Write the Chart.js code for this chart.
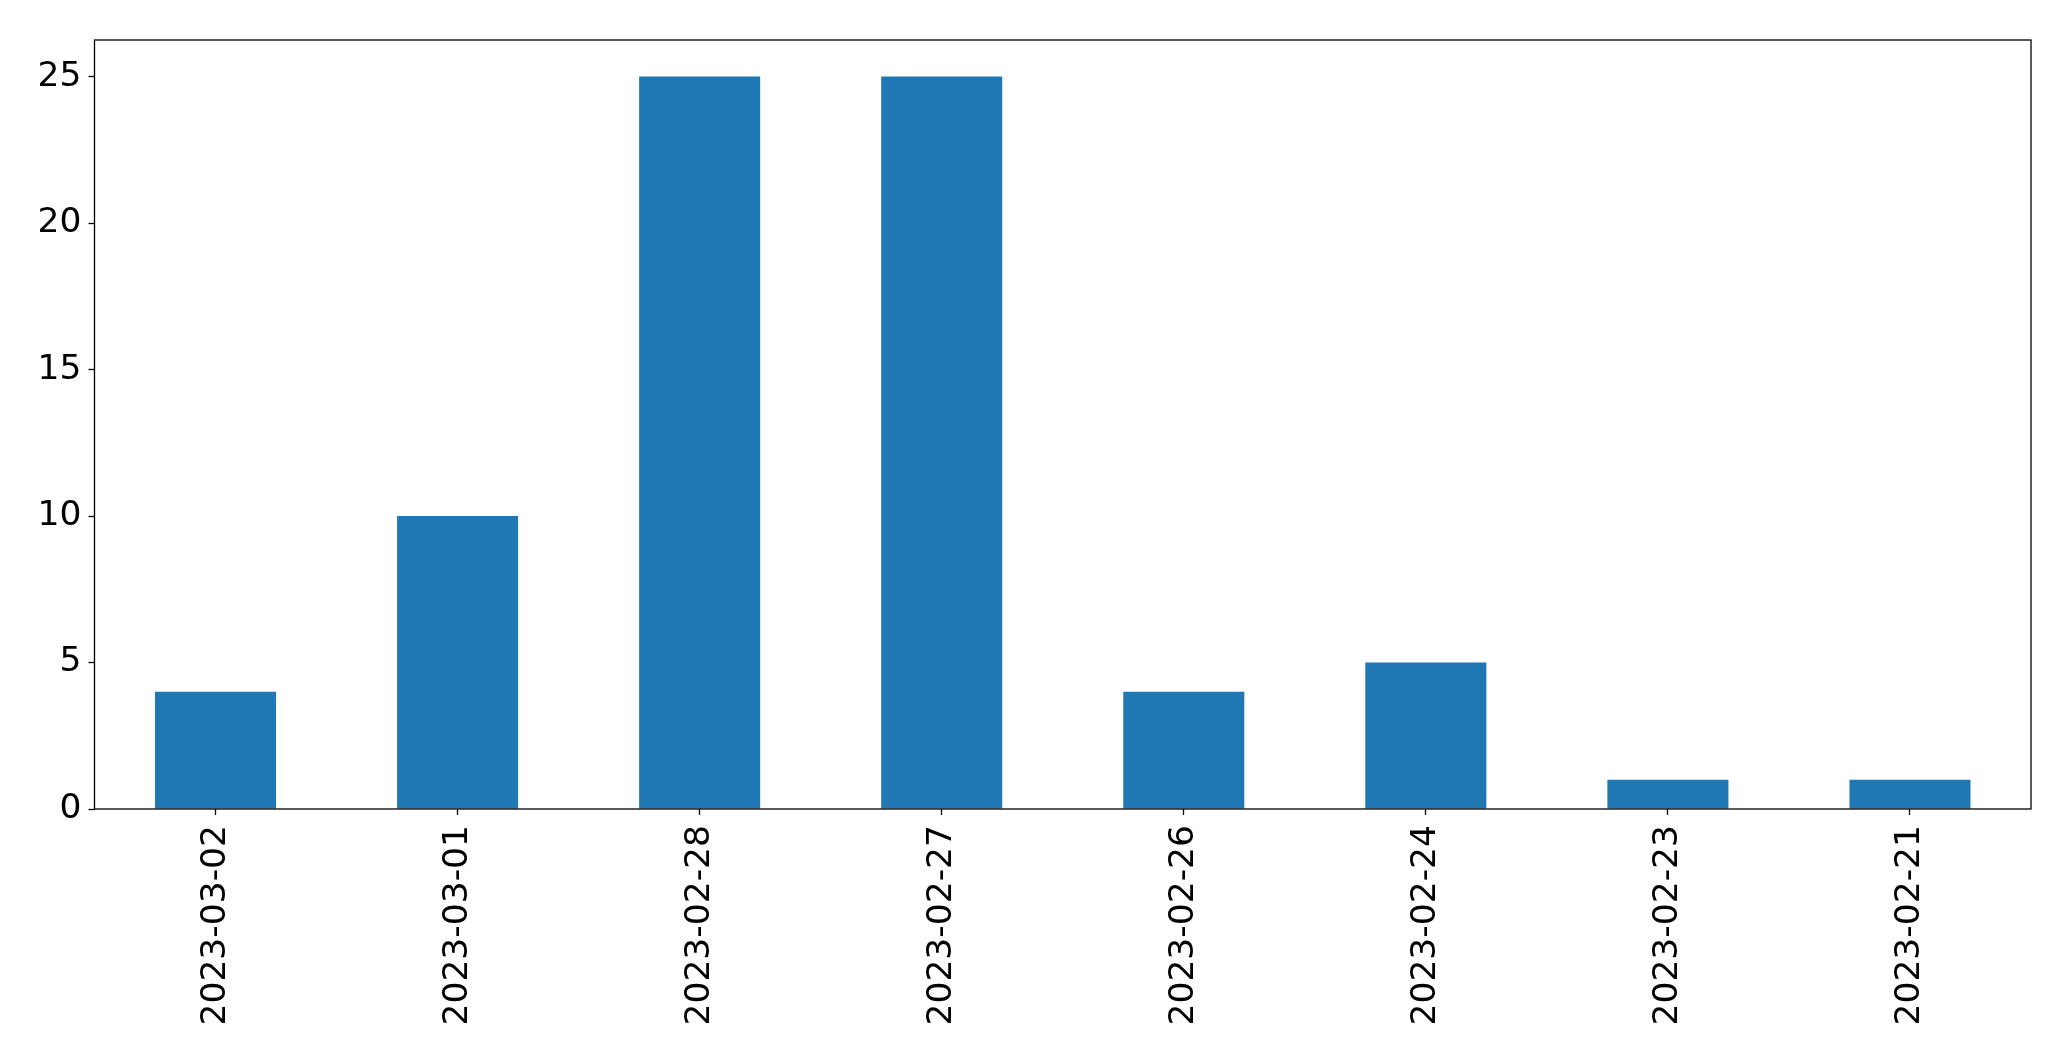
<!DOCTYPE html>
<html>
<head>
<meta charset="utf-8">
<script src="https://cdn.jsdelivr.net/npm/chart.js@4"></script>
<style>
  html, body { margin: 0; padding: 0; background: #fff; }
  #wrap { width: 2071px; height: 1061px; }
</style>
</head>
<body>
<div id="wrap"><canvas id="chart" width="2071" height="1061"></canvas></div>
<script>
const dates = ['2023-03-02', '2023-03-01', '2023-02-28', '2023-02-27', '2023-02-26', '2023-02-24', '2023-02-23', '2023-02-21'];
const counts = [4, 10, 25, 25, 4, 5, 1, 1];
const yTicks = [0, 5, 10, 15, 20, 25];

// matplotlib-style frame round the plot area
const boxBorder = {
    id: 'boxBorder',
    afterDraw(chart) {
        const {ctx, chartArea: a} = chart;
        ctx.save();
        ctx.strokeStyle = '#000';
        ctx.lineWidth = 1.3;
        ctx.strokeRect(a.left, a.top, a.right - a.left, a.bottom - a.top);
        ctx.restore();
    }
};

const tickFont = {family: 'DejaVu Sans', size: 34.5};

new Chart(document.getElementById('chart'), {
    type: 'bar',
    data: {
        labels: dates,
        datasets: [{
            data: counts,
            backgroundColor: '#1f77b4',
            categoryPercentage: 1,
            barPercentage: 0.5,
        }]
    },
    options: {
        responsive: false,
        animation: false,
        events: [],
        layout: {padding: {top: 40, right: 40, left: 0, bottom: 0}},
        plugins: {legend: {display: false}, tooltip: {enabled: false}},
        scales: {
            x: {
                offset: true,
                grid: {display: true, offset: false, drawOnChartArea: false, tickLength: 6, color: '#000', tickWidth: 1.3},
                border: {display: false},
                ticks: {
                    font: tickFont, color: '#000',
                    minRotation: 90, maxRotation: 90, padding: 10,
                    autoSkip: false,
                },
                afterFit(scale) { scale.height = 252; }
            },
            y: {
                min: 0,
                max: 26.25,
                afterBuildTicks(scale) { scale.ticks = yTicks.map(v => ({value: v})); },
                grid: {display: true, drawOnChartArea: false, tickLength: 6, color: '#000', tickWidth: 1.3},
                border: {display: false},
                ticks: {font: tickFont, color: '#000', padding: 7},
                afterFit(scale) { scale.width = 94.5; }
            }
        }
    },
    plugins: [boxBorder]
});
</script>
</body>
</html>
